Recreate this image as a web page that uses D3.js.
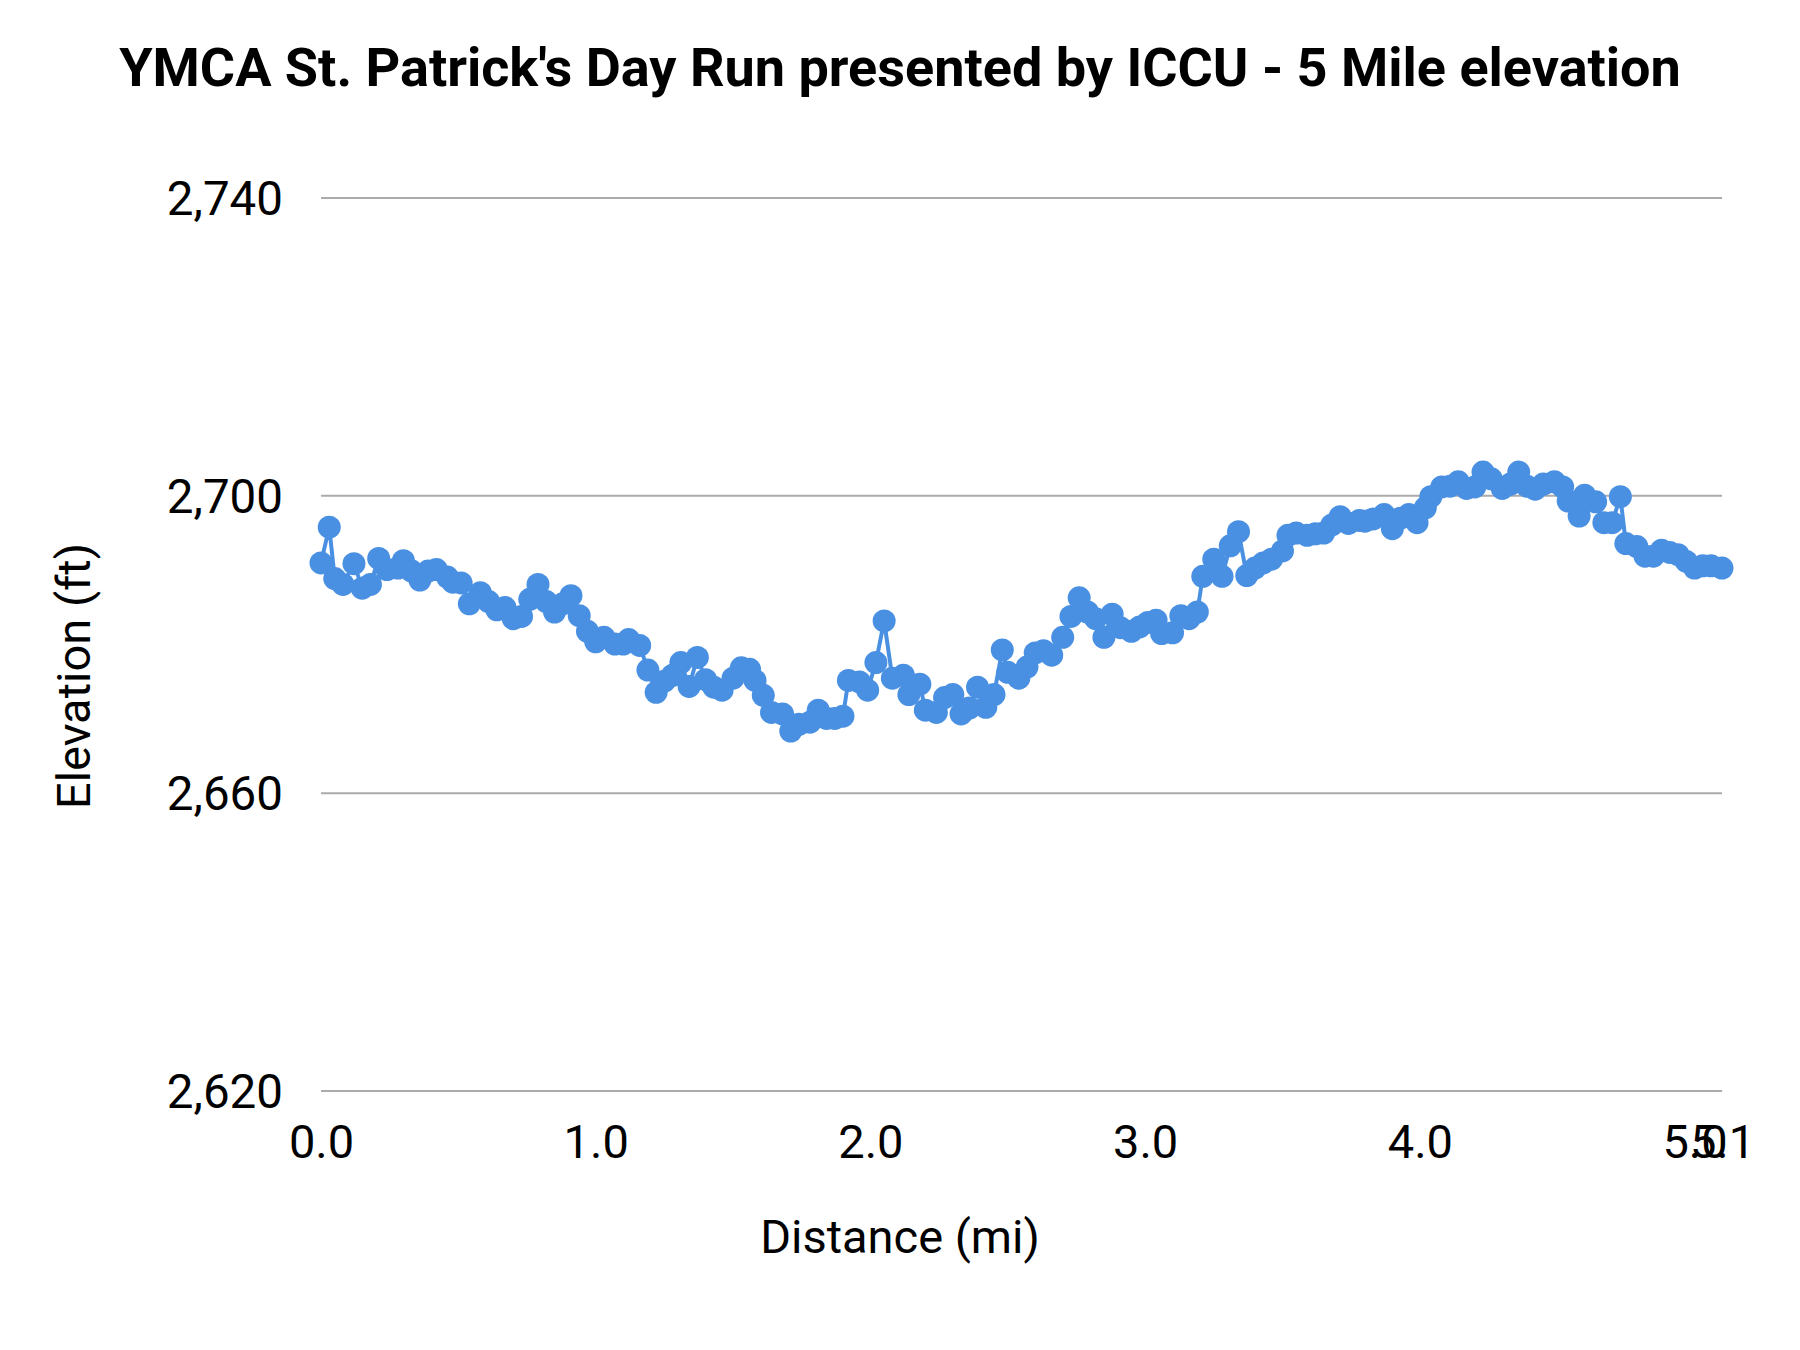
<!DOCTYPE html>
<html>
<head>
<meta charset="utf-8">
<script src="https://cdn.jsdelivr.net/npm/d3@7"></script>
<style>
  html, body { margin: 0; padding: 0; background: #fff; }
  svg { display: block; font-family: Roboto, "Noto Sans", sans-serif; }
</style>
</head>
<body>
<svg id="chart" width="1800" height="1350"></svg>
<script>
const chartTitle = "YMCA St. Patrick's Day Run presented by ICCU - 5 Mile elevation";
const xAxisTitle = "Distance (mi)";
const yAxisTitle = "Elevation (ft)";

const distanceMi = [
  0.00, 0.03, 0.05, 0.08, 0.12, 0.15, 0.18, 0.21, 0.24, 0.28,
  0.30, 0.33, 0.36, 0.39, 0.42, 0.46, 0.48, 0.51, 0.54, 0.58,
  0.61, 0.64, 0.67, 0.70, 0.73, 0.76, 0.79, 0.82, 0.85, 0.88,
  0.91, 0.94, 0.97, 1.00, 1.03, 1.07, 1.10, 1.12, 1.16, 1.19,
  1.22, 1.25, 1.28, 1.31, 1.34, 1.37, 1.40, 1.43, 1.46, 1.50,
  1.53, 1.56, 1.58, 1.61, 1.64, 1.68, 1.71, 1.74, 1.78, 1.81,
  1.84, 1.87, 1.90, 1.92, 1.96, 1.99, 2.02, 2.05, 2.08, 2.12,
  2.14, 2.18, 2.20, 2.24, 2.27, 2.30, 2.33, 2.36, 2.39, 2.42,
  2.45, 2.48, 2.50, 2.54, 2.57, 2.60, 2.63, 2.66, 2.70, 2.73,
  2.76, 2.79, 2.82, 2.85, 2.88, 2.91, 2.95, 2.98, 3.01, 3.04,
  3.06, 3.10, 3.13, 3.16, 3.19, 3.21, 3.25, 3.28, 3.31, 3.34,
  3.37, 3.40, 3.43, 3.46, 3.50, 3.52, 3.55, 3.59, 3.62, 3.65,
  3.68, 3.71, 3.74, 3.78, 3.80, 3.83, 3.87, 3.90, 3.93, 3.96,
  3.99, 4.02, 4.04, 4.08, 4.11, 4.14, 4.17, 4.20, 4.23, 4.26,
  4.30, 4.33, 4.36, 4.39, 4.42, 4.45, 4.49, 4.52, 4.54, 4.58,
  4.60, 4.64, 4.67, 4.70, 4.73, 4.75, 4.79, 4.82, 4.85, 4.88,
  4.91, 4.94, 4.97, 5.00, 5.03, 5.06, 5.10
];

const elevationFt = [
  2690.9, 2695.7, 2688.8, 2688.0, 2690.8, 2687.5, 2688.0, 2691.5, 2690.0, 2690.2,
  2691.2, 2689.8, 2688.6, 2689.8, 2690.0, 2689.0, 2688.3, 2688.2, 2685.4, 2686.9,
  2685.7, 2684.6, 2684.9, 2683.4, 2683.7, 2686.0, 2688.0, 2685.7, 2684.3, 2685.4,
  2686.5, 2683.8, 2681.7, 2680.3, 2680.9, 2680.0, 2680.0, 2680.6, 2679.8, 2676.5,
  2673.5, 2675.0, 2675.8, 2677.5, 2674.3, 2678.2, 2675.2, 2674.2, 2673.8, 2675.4,
  2676.8, 2676.6, 2675.1, 2673.1, 2670.8, 2670.6, 2668.3, 2669.2, 2669.5, 2671.1,
  2670.0, 2670.0, 2670.3, 2675.1, 2674.9, 2673.8, 2677.5, 2683.1, 2675.4, 2675.8,
  2673.2, 2674.6, 2671.1, 2670.8, 2672.8, 2673.2, 2670.6, 2671.4, 2674.2, 2671.5,
  2673.2, 2679.2, 2676.2, 2675.4, 2676.9, 2678.8, 2679.1, 2678.5, 2680.9, 2683.7,
  2686.2, 2684.3, 2683.4, 2680.9, 2684.0, 2682.2, 2681.7, 2682.3, 2682.9, 2683.2,
  2681.4, 2681.5, 2683.8, 2683.4, 2684.3, 2689.1, 2691.4, 2689.1, 2693.2, 2695.1,
  2689.2, 2690.2, 2690.9, 2691.4, 2692.5, 2694.6, 2694.9, 2694.6, 2694.8, 2694.9,
  2696.0, 2697.1, 2696.2, 2696.6, 2696.5, 2696.8, 2697.4, 2695.5, 2696.9, 2697.4,
  2696.3, 2698.3, 2699.8, 2701.1, 2701.2, 2701.8, 2700.9, 2701.1, 2703.1, 2702.2,
  2700.9, 2701.5, 2703.1, 2701.2, 2700.8, 2701.5, 2701.8, 2701.1, 2699.2, 2697.2,
  2700.0, 2699.1, 2696.3, 2696.3, 2699.8, 2693.5, 2693.1, 2691.8, 2691.8, 2692.6,
  2692.3, 2692.0, 2691.1, 2690.2, 2690.5, 2690.5, 2690.2
];

const xTickValues = [0, 1, 2, 3, 4, 5, 5.1];
const yTickValues = [2620, 2660, 2700, 2740];

const data = distanceMi.map((d, i) => ({ x: d, y: elevationFt[i] }));

const svg = d3.select("#chart");
const plot = { left: 321, right: 1722, top: 197.5, bottom: 1090.5 };

const x = d3.scaleLinear().domain([0, 5.1]).range([plot.left, plot.right]);
const y = d3.scaleLinear().domain([2620, 2740]).range([plot.bottom, plot.top]);

const blue = "#4A90E2";

// Title
svg.append("text")
  .attr("x", 900).attr("y", 86)
  .attr("text-anchor", "middle")
  .attr("font-size", 54).attr("font-weight", "bold").attr("fill", "#000")
  .text(chartTitle);

// Y axis (gridlines + labels)
const yAxis = d3.axisLeft(y)
  .tickValues(yTickValues)
  .tickFormat(d3.format(","))
  .tickSize(-(plot.right - plot.left))
  .tickPadding(38);
const yg = svg.append("g").attr("transform", `translate(${plot.left},0)`).call(yAxis);
yg.select(".domain").remove();
yg.selectAll(".tick line").attr("stroke", "#ababab").attr("stroke-width", 2);
yg.selectAll(".tick text")
  .attr("font-size", 47.5).attr("fill", "#000")
  .attr("font-family", "Roboto, sans-serif")
  .attr("dy", "0.36em");

// X axis (labels only)
const xAxis = d3.axisBottom(x)
  .tickValues(xTickValues)
  .tickFormat(d3.format(".1f"))
  .tickSize(0)
  .tickPadding(34);
const xg = svg.append("g").attr("transform", `translate(0,${plot.bottom})`).call(xAxis);
xg.select(".domain").remove();
xg.selectAll(".tick text")
  .attr("font-size", 47).attr("fill", "#000")
  .attr("font-family", "Roboto, sans-serif");

// Axis titles
svg.append("text")
  .attr("x", 900).attr("y", 1253)
  .attr("text-anchor", "middle")
  .attr("font-size", 47).attr("fill", "#000")
  .text(xAxisTitle);

svg.append("text")
  .attr("transform", "translate(90,676) rotate(-90)")
  .attr("text-anchor", "middle")
  .attr("font-size", 47).attr("fill", "#000")
  .text(yAxisTitle);

// Line
const line = d3.line().x(d => x(d.x)).y(d => y(d.y));
svg.append("path")
  .datum(data)
  .attr("d", line)
  .attr("fill", "none")
  .attr("stroke", blue)
  .attr("stroke-width", 4)
  .attr("stroke-linejoin", "round");

// Points
svg.append("g").selectAll("circle")
  .data(data)
  .join("circle")
  .attr("cx", d => x(d.x))
  .attr("cy", d => y(d.y))
  .attr("r", 11.5)
  .attr("fill", blue);
</script>
</body>
</html>
